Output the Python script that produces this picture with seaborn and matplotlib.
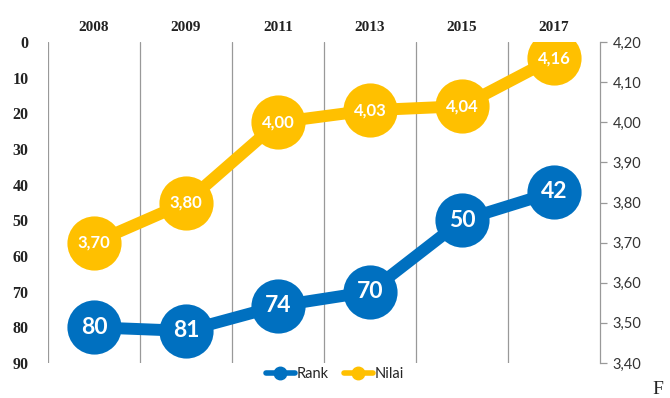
import matplotlib
matplotlib.use("Agg")
import matplotlib.pyplot as plt
import seaborn as sns
import pandas as pd
from matplotlib.lines import Line2D
from matplotlib.ticker import FuncFormatter, FixedLocator

years = ["2008", "2009", "2011", "2013", "2015", "2017"]
rank = [80, 81, 74, 70, 50, 42]
nilai = [3.70, 3.80, 4.00, 4.03, 4.04, 4.16]
nilai_labels = ["3,70", "3,80", "4,00", "4,03", "4,04", "4,16"]
rank_ticks = [0, 10, 20, 30, 40, 50, 60, 70, 80, 90]
nilai_ticks = [3.40, 3.50, 3.60, 3.70, 3.80, 3.90, 4.00, 4.10, 4.20]

BLUE = "#0070C0"
GOLD = "#FFC000"

sns.set_theme(style="white")
plt.rcParams['font.family'] = ['Lato', 'DejaVu Sans']

df = pd.DataFrame({"pos": list(range(len(years))), "year": years,
                   "rank": rank, "nilai": nilai})

fig = plt.figure(figsize=(6.7, 3.98), dpi=100)
ax = fig.add_axes([48/670, 1-363/398, (600-48)/670, (363-42)/398])
ax2 = ax.twinx()

sns.lineplot(data=df, x="pos", y="rank", ax=ax, color=BLUE, lw=8.6,
             marker="o", markersize=39, markeredgewidth=0, zorder=3, legend=False)
sns.lineplot(data=df, x="pos", y="nilai", ax=ax2, color=GOLD, lw=8.6,
             marker="o", markersize=39, markeredgewidth=0, zorder=3, legend=False)

ax.set_xlim(-0.5, len(years) - 0.5)
ax.set_ylim(90, 0)
ax2.set_ylim(3.40, 4.20)

for i, v in enumerate(rank):
    ax.text(i, v, str(v), color="white", fontsize=16.5, fontweight="bold",
            ha="center", va="center", zorder=5, family="Lato")
for i, v in enumerate(nilai):
    ax2.text(i, v, nilai_labels[i], color="white", fontsize=12, fontweight="bold",
             ha="center", va="center", zorder=5, family="Lato")

# x axis on top
ax.xaxis.tick_top()
ax.set_xticks(range(len(years)))
ax.set_xticklabels(years, fontsize=11, fontweight="bold",
                   family="Liberation Serif", color="#222222")
ax.tick_params(axis="x", length=0, pad=6)
ax.set_xlabel("")
ax.set_ylabel("")
ax2.set_ylabel("")
ax2.set_xlabel("")

# vertical separators
for b in [i - 0.5 for i in range(len(years))]:
    ax.axvline(b, color="#999999", lw=0.9, zorder=1)

ax.yaxis.set_major_locator(FixedLocator(rank_ticks))
ax.set_yticklabels([str(t) for t in rank_ticks], fontsize=11.5, fontweight="bold",
                   family="Liberation Serif", color="#222222")
ax.tick_params(axis="y", length=0, pad=14)

ax2.yaxis.set_major_locator(FixedLocator(nilai_ticks))
ax2.yaxis.set_major_formatter(FuncFormatter(lambda v, p: f"{v:.2f}".replace(".", ",")))
ax2.tick_params(axis="y", length=5, width=0.9, color="#999999", direction="out",
                labelsize=10.5, labelcolor="#333333", pad=4)

for a in (ax, ax2):
    for s in a.spines.values():
        s.set_visible(False)
ax2.spines["right"].set_visible(True)
ax2.spines["right"].set_color("#999999")
ax2.spines["right"].set_linewidth(0.9)

handles = [Line2D([0], [0], color=BLUE, lw=4, marker="o", markersize=9),
           Line2D([0], [0], color=GOLD, lw=4, marker="o", markersize=9)]
fig.legend(handles, ["Rank", "Nilai"], loc="center", bbox_to_anchor=(335/670, 1-374/398),
           ncol=2, frameon=False, fontsize=10.5, handlelength=2.0, handletextpad=0.15,
           columnspacing=1.0)

fig.text(652/670, 0.0, "F", family="Liberation Serif", fontsize=14, va="bottom",
         color="#222222")

fig.savefig("out.png", dpi=100)
